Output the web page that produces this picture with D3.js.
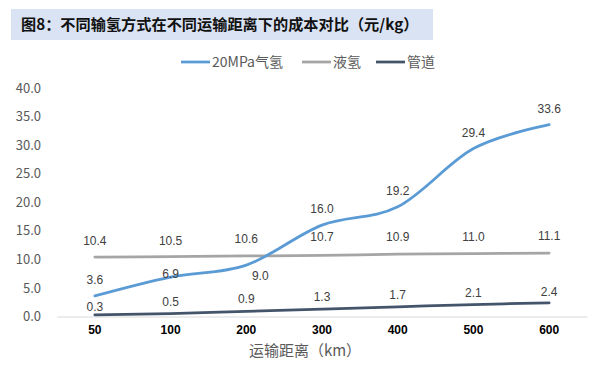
<!DOCTYPE html>
<html><head><meta charset="utf-8">
<script src="https://cdn.jsdelivr.net/npm/d3@7"></script>
<style>body{margin:0;background:#fff;} svg{display:block;font-family:"Noto Sans CJK SC","Noto Sans",sans-serif;}</style>
</head><body>
<script>
const categories = ["50","100","200","300","400","500","600"];
const seriesNames = ["20MPa气氢","液氢","管道"];
const gasH2 = [3.6,6.9,9.0,16.0,19.2,29.4,33.6];
const liquidH2 = [10.4,10.5,10.6,10.7,10.9,11.0,11.1];
const pipeline = [0.3,0.5,0.9,1.3,1.7,2.1,2.4];
const yTicks = [0,5,10,15,20,25,30,35,40];
const colors = ["#5B9BD5","#A5A5A5","#44546A"];
// label offsets [dx, dy] relative to point (styling only)
const labelOffsets = [
  [[0,-16],[0,-3],[14,11],[0,-16],[0,-16],[0,-16],[0,-16]],
  [[0,-16],[0,-16],[0,-17],[0,-18],[0,-17],[0,-17],[0,-17]],
  [[0,-8],[0,-12],[0,-12],[0,-12],[0,-12],[0,-12],[0,-11]]
];
const series = [gasH2, liquidH2, pipeline];

const W=597,H=368;
const svg=d3.select("body").append("svg").attr("width",W).attr("height",H);

// title
svg.append("rect").attr("x",11).attr("y",9).attr("width",422).attr("height",31).attr("fill","#DAE3F3");
svg.append("text").attr("x",21).attr("y",30).attr("font-size",15.2).attr("font-weight","bold").attr("fill","#111")
  .text("图8：不同输氢方式在不同运输距离下的成本对比（元/kg）");

const x=d3.scaleBand().domain(categories).range([57,587]);
const y=d3.scaleLinear().domain([0,40]).range([316.5,88]);

// y axis labels
const ya=svg.append("g").attr("transform","translate(41,0)")
  .call(d3.axisLeft(y).tickValues(yTicks).tickSize(0).tickPadding(0).tickFormat(d3.format(".1f")));
ya.select(".domain").remove();
ya.selectAll("text").attr("font-size",13).attr("fill","#595959").attr("font-family","'Noto Sans CJK SC',sans-serif");

// x axis
const xa=svg.append("g").attr("transform","translate(0,316.5)")
  .call(d3.axisBottom(x).tickSize(0).tickPadding(9));
xa.select(".domain").attr("stroke","#D9D9D9").attr("stroke-width",1);
xa.selectAll("text").attr("font-size",12).attr("font-weight","bold").attr("fill","#000").attr("font-family","'Liberation Sans',Arial,sans-serif");

svg.append("text").attr("x",305).attr("y",356).attr("text-anchor","middle").attr("font-size",15).attr("fill","#595959")
  .text("运输距离（km）");

const line=d3.line().x((d,i)=>x(categories[i])+x.bandwidth()/2).y(d=>y(d)).curve(d3.curveCardinal.tension(0));

[1,2,0].forEach(si=>{
  svg.append("path").datum(series[si]).attr("d",line).attr("fill","none")
    .attr("stroke",colors[si]).attr("stroke-width",2.75).attr("stroke-linecap","round");
});
series.forEach((s,si)=>{
  svg.append("g").selectAll("text").data(s).join("text")
    .attr("x",(d,i)=>x(categories[i])+x.bandwidth()/2+labelOffsets[si][i][0])
    .attr("y",(d,i)=>y(d)+labelOffsets[si][i][1]+4)
    .attr("text-anchor","middle").attr("font-size",12).attr("fill","#404040")
    .attr("font-family","'Liberation Sans',Arial,sans-serif")
    .text(d=>d.toFixed(1));
});

// legend
const legX=[181,302,376];
seriesNames.forEach((n,i)=>{
  svg.append("line").attr("x1",legX[i]).attr("x2",legX[i]+29).attr("y1",62).attr("y2",62)
    .attr("stroke",colors[i]).attr("stroke-width",2.75);
  svg.append("text").attr("x",legX[i]+31).attr("y",67).attr("font-size",14).attr("fill","#595959").text(n);
});
</script>
</body></html>
